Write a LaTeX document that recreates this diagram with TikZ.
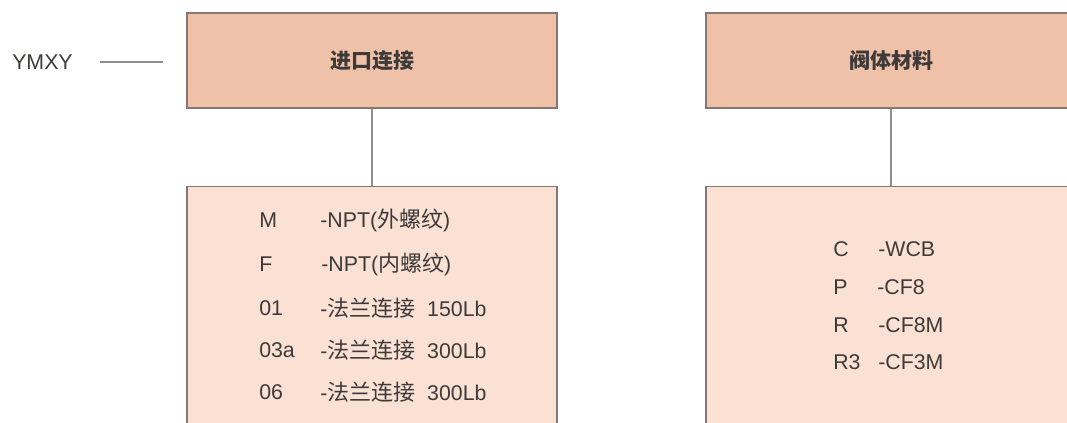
\documentclass[tikz,border=0pt]{standalone}
\usepackage{fontspec}
\setmainfont{Liberation Sans}
\newfontfamily\cjk{Noto Sans CJK SC}
\usepackage{tikz}
\usetikzlibrary{positioning}
\definecolor{headfill}{HTML}{EFC1A8}
\definecolor{itemfill}{HTML}{FAE1D4}
\definecolor{boxline}{HTML}{857872}
\definecolor{linkline}{HTML}{8E8E8E}
\definecolor{txt}{HTML}{3E3A39}
\newcommand{\hz}[1]{{\cjk\fontsize{16.5}{18}\selectfont #1}}
\tikzstyle{headbox}=[draw=boxline, fill=headfill, line width=0.9pt, minimum width=277.5pt, minimum height=71.25pt, inner sep=0pt, font=\cjk\bfseries\fontsize{15.75}{18}\selectfont, text=txt]
\tikzstyle{itembox}=[draw=boxline, fill=itemfill, line width=0.9pt, minimum width=277.5pt, minimum height=213.75pt, inner sep=0pt]
\tikzstyle{link}=[draw=linkline, line width=1pt]
\tikzset{
    item/.style={anchor=west, inner sep=0pt, text=txt, font=\fontsize{16}{18}\selectfont}
}

\begin{document}
\begin{tikzpicture}[x=0.75pt, y=-0.75pt]
 \useasboundingbox (0,0) rectangle (1067,422);
 \clip (0,0) rectangle (1067,422);

      \node (ymxy)[item] at (12,62) {YMXY};
      \coordinate (ymxy_a) at (100,62);
      \coordinate (ymxy_b) at (163,62);

      %%%%%%%% inlet %%%%%%%%%%%%%%%%%%%%%%%%%%%
      \node (inlet)[headbox] at (372,60.5) {进口连接};
      \node [itembox, below=57.75pt of inlet] (inlet_list) {};

      \node (m)[item] at (259,220) {M};
      \node (m_d)[item] at (320,220) {-NPT(\hz{外螺纹})};
      \node (f)[item] at (259,264) {F};
      \node (f_d)[item] at (321,264) {-NPT(\hz{内螺纹})};
      \node (c01)[item] at (259,308) {01};
      \node (c01_d)[item] at (320,308) {-\hz{法兰连接}\ \ 150Lb};
      \node (c03a)[item] at (259,350) {03a};
      \node (c03a_d)[item] at (320,350) {-\hz{法兰连接}\ \ 300Lb};
      \node (c06)[item] at (259,392) {06};
      \node (c06_d)[item] at (320,392) {-\hz{法兰连接}\ \ 300Lb};

      %%%%%%%% body material %%%%%%%%%%%%%%%%%%%%
      \node (body)[headbox] at (891,60.5) {阀体材料};
      \node [itembox, below=57.75pt of body] (body_list) {};

      \node (c)[item] at (833,249) {C};
      \node (c_d)[item] at (878,249) {-WCB};
      \node (p)[item] at (833,287) {P};
      \node (p_d)[item] at (877,287) {-CF8};
      \node (r)[item] at (833,325) {R};
      \node (r_d)[item] at (878,325) {-CF8M};
      \node (r3)[item] at (833,362) {R3};
      \node (r3_d)[item] at (878,362) {-CF3M};

 \draw [link] (ymxy_a) -- (ymxy_b);
 \draw [link] (inlet) -- (inlet_list);
 \draw [link] (body) -- (body_list);

\end{tikzpicture}
\end{document}
